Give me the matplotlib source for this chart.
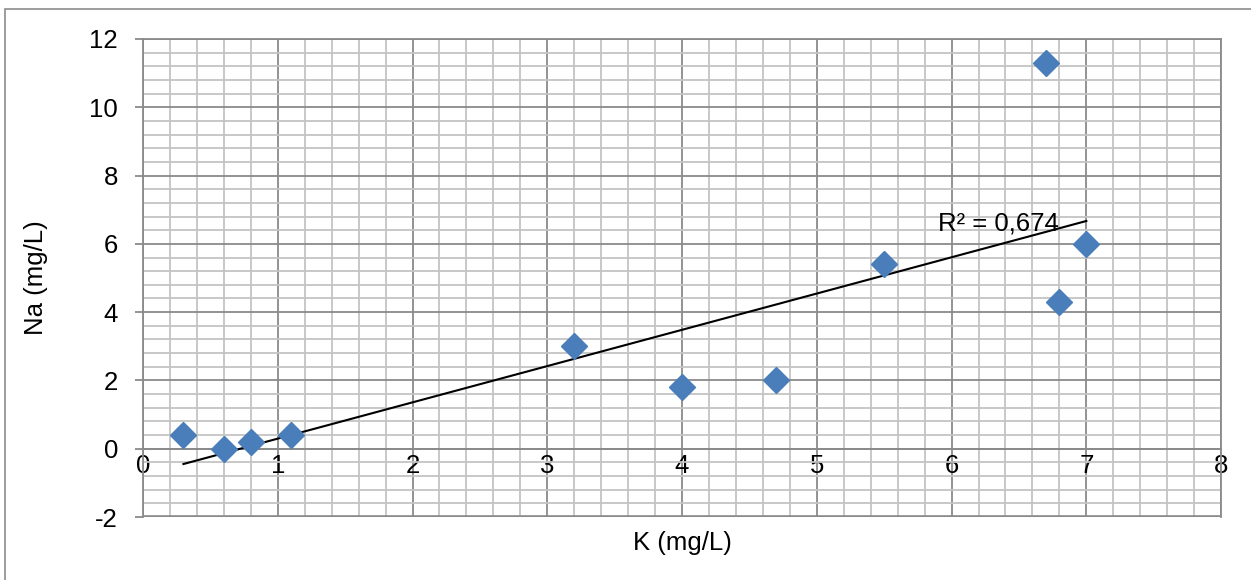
import numpy as np
import matplotlib
matplotlib.use("Agg")
import matplotlib.pyplot as plt
from matplotlib.ticker import MultipleLocator
from matplotlib.patches import Rectangle

# data
k_mgl = [0.3, 0.6, 0.8, 1.1, 3.2, 4.0, 4.7, 5.5, 6.7, 6.8, 7.0]
na_mgl = [0.4, 0.0, 0.2, 0.4, 3.0, 1.8, 2.0, 5.4, 11.3, 4.3, 6.0]
r2_label = "R² = 0,674"

plt.rcParams['font.family'] = ['Liberation Sans', 'DejaVu Sans']
plt.rcParams['axes.unicode_minus'] = False

fig = plt.figure(figsize=(12.51, 5.8), dpi=100)
ax = fig.add_axes([0.1143, 0.1086, 0.8618, 0.8242])

# outer chart border
fig.patches.append(Rectangle((0.0036, -0.1), 1.2, 1.0844, transform=fig.transFigure,
                             fill=False, edgecolor='#8c8c8c', lw=1.2))

# trendline (linear fit)
slope, icpt = np.polyfit(k_mgl, na_mgl, 1)
xs = np.array([min(k_mgl), max(k_mgl)])
ax.plot(xs, slope * xs + icpt, color='black', lw=1.5, zorder=3)

ax.plot(k_mgl, na_mgl, linestyle='none', marker='D', ms=13,
        color='#4a7ebb', markeredgecolor='#4a7ebb', zorder=4)

ax.text(5.9, 6.6, r2_label, fontsize=18.5, va='center', ha='left', zorder=5)

ax.set_xlim(0, 8)
ax.set_ylim(-2, 12)
ax.xaxis.set_major_locator(MultipleLocator(1))
ax.xaxis.set_minor_locator(MultipleLocator(0.2))
ax.yaxis.set_major_locator(MultipleLocator(2))
ax.yaxis.set_minor_locator(MultipleLocator(0.4))

ax.grid(which='minor', color='#c4c4c4', lw=1.3)
ax.grid(which='major', color='#8a8a8a', lw=1.3)
ax.set_axisbelow(True)

for s in ['top', 'right', 'left']:
    ax.spines[s].set_color('#8a8a8a')
    ax.spines[s].set_linewidth(1.3)
ax.spines['bottom'].set_position(('data', 0))
ax.spines['bottom'].set_color('#8a8a8a')
ax.spines['bottom'].set_linewidth(1.3)
ax.axhline(-2, color='#8a8a8a', lw=2.6, clip_on=True)

ax.tick_params(axis='x', which='both', length=0, pad=4, labelsize=18.5)
ax.tick_params(axis='y', which='major', length=6, width=1.3, color='#8a8a8a',
               direction='out', pad=12, labelsize=18.5)
ax.tick_params(axis='y', which='minor', length=0)

ax.set_xlabel('K (mg/L)', fontsize=18.5, labelpad=0)
ax.xaxis.set_label_coords(0.5, -0.03)
ax.set_ylabel('Na (mg/L)', fontsize=18.5)
ax.yaxis.set_label_coords(-0.088, 0.5)

fig.savefig('out.png', dpi=100)
